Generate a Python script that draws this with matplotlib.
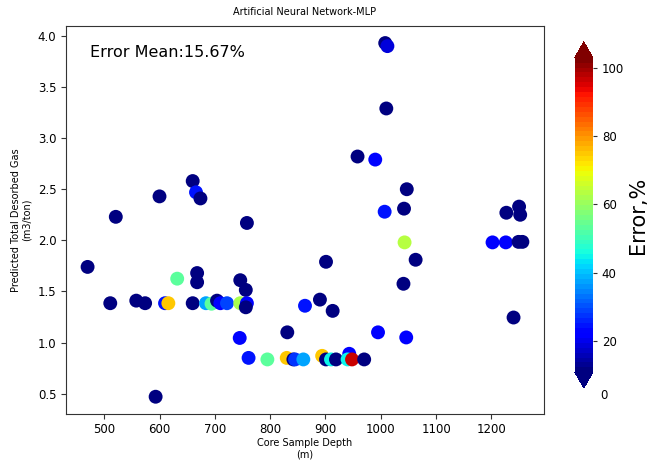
import matplotlib
matplotlib.use("Agg")
import matplotlib.pyplot as plt
import matplotlib.transforms as mtransforms
from matplotlib.colors import Normalize

# core depth (m), predicted gas (m3/ton), error (%)
depth = [470, 511, 521, 558, 574, 600, 593, 660, 666, 674, 758,
         610, 616, 632, 668, 668, 660, 684, 694, 704, 710, 722,
         746, 756, 746, 758, 756, 745, 761, 795, 831, 830, 842, 845, 860,
         863, 890, 913, 901, 894, 901, 910, 919, 943, 940, 948, 970,
         958, 990, 1008, 1012, 1010, 1007, 1042, 1047, 995, 1046,
         1043, 1063, 1041, 1202, 1226, 1227, 1250, 1252, 1249, 1256, 1240]
predicted = [1.74, 1.385, 2.23, 1.41, 1.385, 2.43, 0.47, 2.58, 2.47, 2.41, 2.17,
             1.385, 1.385, 1.625, 1.68, 1.59, 1.385, 1.385, 1.38, 1.41, 1.385, 1.385,
             1.61, 1.515, 1.385, 1.385, 1.345, 1.045, 0.85, 0.835, 1.10, 0.85, 0.835, 0.835, 0.835,
             1.36, 1.42, 1.31, 1.79, 0.87, 0.835, 0.835, 0.835, 0.89, 0.835, 0.835, 0.835,
             2.82, 2.79, 3.93, 3.90, 3.29, 2.28, 2.31, 2.50, 1.10, 1.05,
             1.98, 1.81, 1.575, 1.98, 1.98, 2.27, 2.33, 2.25, 1.985, 1.985, 1.245]
error = [5, 5, 5, 5, 5, 5, 5, 5, 24, 5, 5,
         24, 75, 54, 5, 5, 5, 38, 54, 5, 21, 29,
         5, 5, 62, 22, 5, 23, 25, 54, 5, 75, 5, 27, 37,
         24, 5, 5, 5, 75, 5, 44, 12, 22, 44, 96, 5,
         5, 23, 5, 18, 5, 24, 5, 5, 22, 22,
         64, 5, 5, 21, 21, 5, 5, 5, 5, 5, 5]

fig = plt.figure(figsize=(6.51, 4.61), dpi=100)
ax = fig.add_axes([0.1014, 0.1026, 0.7342, 0.8417])
norm = Normalize(vmin=10.7, vmax=103.1)
cmap = plt.get_cmap("jet", 64)
sc = ax.scatter(depth, predicted, c=error, cmap=cmap, norm=norm, s=100, linewidths=0)

ax.set_xlim(431, 1295)
ax.set_ylim(0.304, 4.10)
ax.set_xticks([500, 600, 700, 800, 900, 1000, 1100, 1200])
ax.set_yticks([0.5, 1.0, 1.5, 2.0, 2.5, 3.0, 3.5, 4.0])
ax.tick_params(labelsize=8.5, color="#333333")
for s in ax.spines.values():
    s.set_color("#333333")
ax.set_title("Artificial Neural Network-MLP", fontsize=7, pad=8)
ax.set_xlabel("Core Sample Depth\n(m)", fontsize=7, labelpad=1)
ax.set_ylabel("Predicted Total Desorbed Gas\n(m3/ton)", fontsize=7, labelpad=4)
ax.text(0.05, 0.932, "Error Mean:15.67%", transform=ax.transAxes,
        fontsize=11.5, va="center", ha="left")

cax = fig.add_axes([0.883, 0.1584, 0.0276, 0.7505])
cb = fig.colorbar(sc, cax=cax, extend="both")
cb.outline.set_visible(False)
cb.set_ticks([20, 40, 60, 80, 100])
cb.ax.tick_params(labelsize=8.5, length=3, color="#333333")
# the "0" label sits in the lower extension triangle
tr = mtransforms.blended_transform_factory(cax.transAxes, cax.transAxes)
cax.text(1.0 + 7 / 18, -26 / 346.7, "0", transform=tr, fontsize=8.5,
         va="center", ha="left", clip_on=False)
cb.set_label("Error,%", fontsize=15, labelpad=3)

fig.savefig("out.png", dpi=100)
